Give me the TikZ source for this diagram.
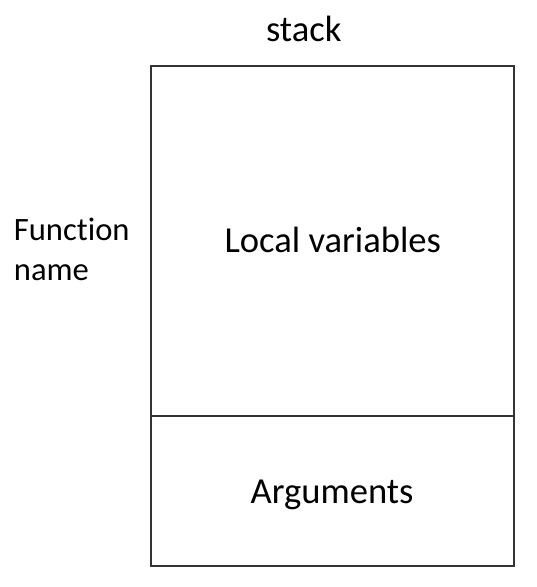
\documentclass[tikz,border=0pt]{standalone}
\usepackage{fontspec}
\setmainfont{Carlito}[Ligatures=NoCommon]
\begin{document}
\begin{tikzpicture}[x=0.5pt,y=-0.5pt,
  frame/.style={draw=black!80,line width=1pt},
  lbl/.style={anchor=base,inner sep=0pt,font=\fontsize{18.3}{19.5}\selectfont},
  side/.style={lbl,anchor=base west,font=\fontsize{16.3}{19.8}\selectfont}]
\useasboundingbox (0,0) rectangle (536,587);
% the two cells of the frame
\draw[frame] (151,66.5) rectangle (514,566);
\draw[frame] (151,416) -- (514,416);
% texts
\node[lbl] (stack) at (303.7,41.7) {stack};
\node[lbl] (locals) at (332.8,252.7) {Local variables};
\node[lbl] (args) at (332,503.5) {Arguments};
\node[side] (func) at (13.5,240.5) {Function};
\node[side] (fname) at (13.5,280) {name};
\end{tikzpicture}
\end{document}
